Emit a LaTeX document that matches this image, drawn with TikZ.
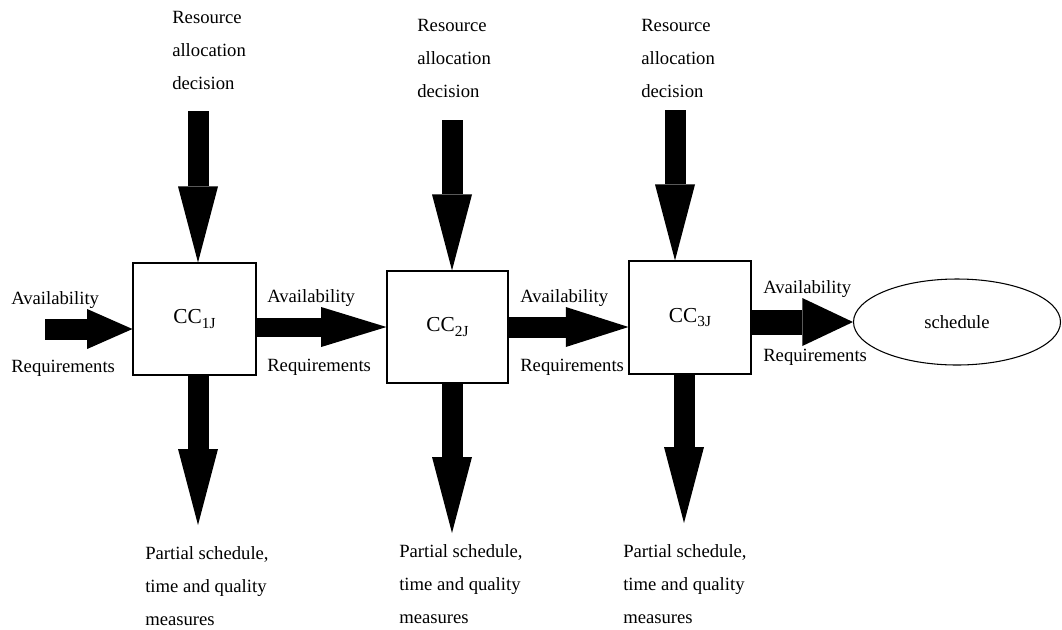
\documentclass[tikz,border=0pt]{standalone}
\usepackage{fontspec}
\setmainfont{Liberation Serif}
\usetikzlibrary{arrows.meta,shapes.geometric}
\newcommand{\ccname}[1]{CC\raisebox{-0.45ex}{\fontsize{11.5}{12}\selectfont #1J}\hspace{10pt}}

\tikzset{
  ccbox/.style={draw, line width=0.8pt, inner sep=0pt, font=\fontsize{16}{19}\selectfont},
  lbl/.style={anchor=base west, inner sep=0pt, align=left, font=\fontsize{14}{24.75}\selectfont},
  bigarrow/.style={line width=15.75pt, -{Triangle[length=#1, width=30pt, line width=0pt]}},
  bigarrow/.default=57pt
}

\begin{document}
\begin{tikzpicture}[x=0.75pt, y=-0.75pt]
  \useasboundingbox (0,0) rectangle (1062,629);
  % the three CC blocks and the schedule
  \node[ccbox, minimum width=92.25pt, minimum height=84pt] (cc1) at (194.5,319) {\ccname{1}};
  \node[ccbox, minimum width=90.75pt, minimum height=84pt] (cc2) at (447.5,327) {\ccname{2}};
  \node[ccbox, minimum width=91.5pt, minimum height=84.75pt] (cc3) at (690,317.5) {\ccname{3}};
  \node[draw, ellipse, line width=0.8pt, inner sep=0pt, minimum width=155.25pt, minimum height=64.5pt,
        font=\fontsize{14}{17}\selectfont] (sched) at (957,322) {schedule};

  % decisions in, partial schedules out
  \foreach \k/\xt/\yt/\xb/\yb in {1/198/111/198/525, 2/452/120/452/533, 3/675/110/684/523}{
    \coordinate (top\k) at (\xt,\yt);
    \coordinate (bot\k) at (\xb,\yb);
    \draw[bigarrow] (top\k) -- (top\k |- cc\k.north);
    \draw[bigarrow] (bot\k |- cc\k.south) -- (bot\k);
  }

  % availability / requirements flow
  \coordinate (in) at (45,329);
  \draw[bigarrow=34pt] (in) -- (in -| cc1.west);
  \draw[bigarrow=49pt, line width=14.25pt] (cc1.east |- cc2.west) -- (cc2.west);
  \draw[bigarrow=47pt] (cc2.east) -- (cc2.east -| cc3.west);
  \draw[line width=18.75pt, -{Triangle[length=38pt, width=36pt, line width=0pt]}]
    (cc3.east |- sched.west) -- (sched.west);

  % labels (base = last line)
  \node[lbl] (res1) at (172,89) {Resource\\allocation\\decision};
  \node[lbl] (res2) at (417,97) {Resource\\allocation\\decision};
  \node[lbl] (res3) at (641,97) {Resource\\allocation\\decision};
  \node[lbl] (part1) at (145,625) {Partial schedule,\\time and quality\\measures};
  \node[lbl] (part2) at (399,623) {Partial schedule,\\time and quality\\measures};
  \node[lbl] (part3) at (623,623) {Partial schedule,\\time and quality\\measures};

  \node[lbl] (av0) at (11,304) {Availability};
  \node[lbl] (rq0) at (11,372) {Requirements};
  \node[lbl] (av1) at (267,302) {Availability};
  \node[lbl] (rq1) at (267,371) {Requirements};
  \node[lbl] (av2) at (520,302) {Availability};
  \node[lbl] (rq2) at (520,371) {Requirements};
  \node[lbl] (av3) at (763,293) {Availability};
  \node[lbl] (rq3) at (763,361) {Requirements};
\end{tikzpicture}
\end{document}
